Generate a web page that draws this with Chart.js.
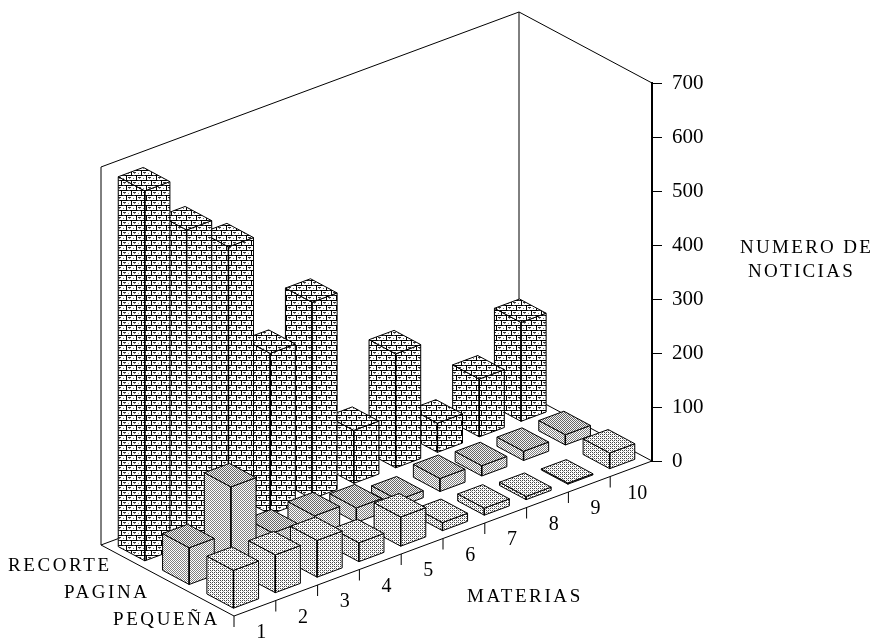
<!DOCTYPE html>
<html><head><meta charset="utf-8">
<style>html,body{margin:0;padding:0;background:#fff}canvas{display:block}</style>
<script src="https://cdn.jsdelivr.net/npm/chart.js@4/dist/chart.umd.js"></script>
</head><body>
<canvas id="c" width="875" height="640"></canvas>
<script>
const materias = ['1','2','3','4','5','6','7','8','9','10'];
const filas = ['PEQUEÑA','PAGINA','RECORTE'];
const pequena = [70,70,68,35,54,15,13,6,2,29];
const pagina  = [68,152,38,41,27,13,24,19,17,19];
const recorte = [685,584,524,298,364,98,211,54,107,183];
const tituloX = 'MATERIAS';
const tituloY = ['NUMERO DE','NOTICIAS'];

const FONT = '"Liberation Serif", serif';
const SHEAR_M = 15.5, DEPTH_X = 44.33, DEPTH_Y = 23.67, BAR = 0.6, GAP = 0.2;

function tile(w, h, draw){
  const t = document.createElement('canvas'); t.width = w; t.height = h;
  const g = t.getContext('2d'); g.fillStyle = '#fff'; g.fillRect(0,0,w,h); g.fillStyle = '#000'; draw(g); return t;
}
const brickTile = tile(10,10,g=>{
  g.fillRect(0,0,8,1); g.fillRect(5,5,5,1); g.fillRect(0,5,3,1);
  g.fillRect(1,1,1,4); g.fillRect(6,6,1,4);
  g.fillStyle='#333'; g.fillRect(8,0,2,1); g.fillRect(3,5,2,1);
  g.fillRect(3,2,3,1); g.fillRect(8,7,2,1); g.fillRect(0,7,1,1);
  g.fillStyle='#777'; g.fillRect(8,3,1,1); g.fillRect(3,8,1,1); g.fillRect(4,3,1,1); g.fillRect(9,8,1,1);
});
const stippleCap = tile(2,2,g=>{ g.fillStyle='#f4f4f4'; g.fillRect(0,0,2,2); g.fillStyle='#666'; g.fillRect(0,0,1,1); g.fillRect(1,1,1,1); });
const stippleMid = tile(2,2,g=>{ g.fillStyle='#808080'; g.fillRect(0,0,1,1); g.fillRect(1,1,1,1); });
const stippleLight = tile(4,4,g=>{ g.fillStyle='#444'; g.fillRect(0,0,1,1); g.fillRect(2,0,1,1); g.fillRect(0,2,1,1); g.fillRect(2,2,1,1); g.fillStyle='#aaa'; g.fillRect(1,1,1,1); g.fillRect(3,3,1,1); });

const box3d = {
  id:'box3d',
  beforeDatasetsDraw(chart){
    const ctx = chart.ctx, xs = chart.scales.x, ys = chart.scales.y;
    const P = (m,s,v)=>[ xs.getPixelForValue(m) - DEPTH_X*s,
                         ys.getPixelForValue(v) + (xs.max-m)*SHEAR_M - DEPTH_Y*s ];
    const line = (a,b,w)=>{ ctx.beginPath(); ctx.moveTo(a[0],a[1]); ctx.lineTo(b[0],b[1]); ctx.lineWidth=w||1; ctx.strokeStyle='#000'; ctx.stroke(); };
    const poly = (pts,fill,w)=>{ ctx.beginPath(); pts.forEach((p,i)=> i?ctx.lineTo(p[0],p[1]):ctx.moveTo(p[0],p[1])); ctx.closePath();
      ctx.fillStyle=fill; ctx.fill(); ctx.lineWidth=w||1; ctx.strokeStyle='#000'; ctx.stroke(); };
    const top = ys.max, D = filas.length, M = xs.max;
    line(P(0,D,0),P(0,D,top));
    line(P(0,D,top),P(M,D,top));
    line(P(M,D,top),P(M,0,top));
    line(P(M,D,top),P(M,D,0));
    line(P(0,D,0),P(M,D,0));
    line(P(M,D,0),P(M,0,0));
    line(P(0,D,0),P(0,0,0));
    line(P(0,0,0),P(M,0,0));
    const bp = ctx.createPattern(brickTile,'repeat'), cp = ctx.createPattern(stippleCap,'repeat'),
          mp = ctx.createPattern(stippleMid,'repeat'), lp = ctx.createPattern(stippleLight,'repeat');
    const styles = [{f:lp,c:lp},{f:mp,c:cp},{f:bp,c:bp}];
    for(let j=chart.data.datasets.length-1;j>=0;j--){
      const ds = chart.data.datasets[j].data, st = styles[j];
      for(let i=ds.length-1;i>=0;i--){
        const m0 = ds[i].x-0.5+GAP, m1 = m0+BAR, s0 = j+GAP, s1 = s0+BAR, v = ds[i].y;
        const a=P(m0,s0,0), b=P(m1,s0,0), c=P(m0,s1,0);
        const A=P(m0,s0,v), B=P(m1,s0,v), C=P(m0,s1,v), E=P(m1,s1,v);
        poly([c,a,A,C],st.f);
        poly([a,b,B,A],st.f);
        poly([A,B,E,C],st.c);
        line(a,A,1.4);
      }
    }
    ctx.fillStyle='#000'; ctx.textAlign='center'; ctx.textBaseline='middle';
    ctx.font='20px '+FONT;
    materias.forEach((t,i)=>{
      const p=P(i,0,0); line(p,[p[0],p[1]+11]);
      const q=P(i+0.65,0,0); ctx.fillText(t,q[0],q[1]+27);
    });
    ctx.save();
    ctx.font='19px '+FONT; ctx.letterSpacing='2.6px'; ctx.textAlign='left'; ctx.textBaseline='alphabetic'; ctx.fillStyle='#000';
    const lx=[113,64,8], ly=[625,598,571];
    filas.forEach((t,k)=>ctx.fillText(t,lx[k],ly[k]));
    ctx.fillText(tituloX,467,602);
    ctx.letterSpacing='2.3px';
    ctx.fillText(tituloY[0],740,253);
    ctx.fillText(tituloY[1],748,277);
    ctx.restore();
  }
};

const toPts = arr => arr.map((v,i)=>({x:i+0.5,y:v}));
new Chart(document.getElementById('c'),{
  type:'scatter',
  data:{datasets:[
    {label:filas[0],data:toPts(pequena),pointRadius:0,showLine:false},
    {label:filas[1],data:toPts(pagina),pointRadius:0,showLine:false},
    {label:filas[2],data:toPts(recorte),pointRadius:0,showLine:false}
  ]},
  plugins:[box3d],
  options:{
    responsive:false,animation:false,
    layout:{padding:{left:234,top:83,bottom:179,right:123}},
    plugins:{legend:{display:false},tooltip:{enabled:false},title:{display:false}},
    scales:{
      x:{type:'linear',min:0,max:10,display:false},
      y:{type:'linear',position:'right',min:0,max:700,
         afterFit(a){a.width=100;},
         border:{display:true,color:'#000',width:2},
         grid:{drawOnChartArea:false,drawTicks:true,tickLength:10,color:'#000',lineWidth:1},
         ticks:{stepSize:100,padding:10,color:'#000',font:{family:'"Liberation Serif", serif',size:21}}}
    }
  }
});
</script>
</body></html>
